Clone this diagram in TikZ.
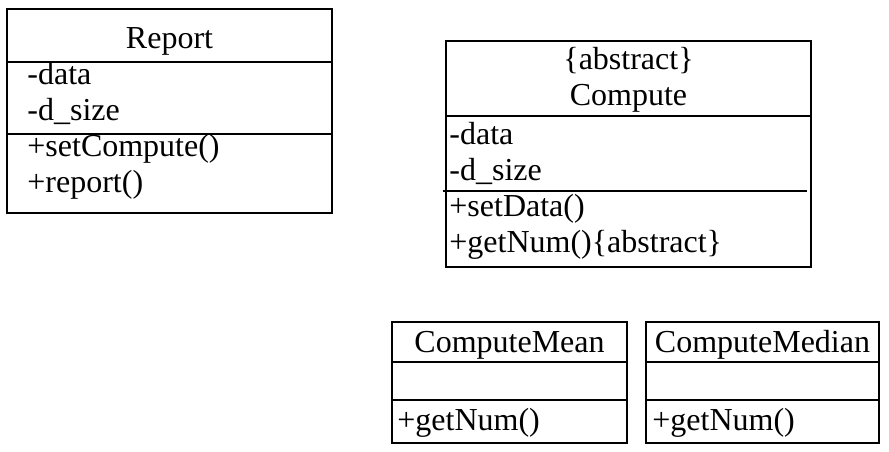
\documentclass[tikz,border=0pt]{standalone}
\usepackage{fontspec}
\setmainfont{Liberation Serif}
\usepackage{tikz}
\usetikzlibrary{positioning}

\newcommand{\umlfont}{\fontsize{16pt}{18pt}\selectfont}

\begin{document}
\begin{tikzpicture}[
    x=0.5pt, y=-0.5pt,
    cls/.style={
        draw,
        line width=1pt,
        anchor=north west,
        inner sep=0pt,
        outer sep=0pt
    },
    sep/.style={
        line width=1pt
    },
    cname/.style={
        font=\umlfont,
        anchor=base,
        inner sep=0pt,
        align=center
    },
    member/.style={
        font=\umlfont,
        anchor=base west,
        inner sep=0pt,
        align=left
    }
]
\useasboundingbox (0,0) rectangle (889,451);

%-------------------------------------------------
% Report
%-------------------------------------------------

\node[cls, minimum width=162.5pt, minimum height=102pt] (report) at (7,9) {};
\draw[sep] ([yshift=-26.5pt]report.north west) -- ([yshift=-26.5pt]report.north east);
\draw[sep] ([yshift=-62.5pt]report.north west) -- ([yshift=-62.5pt]report.north east);

\node[cname] (reportT) at (169.5,48) {Report};
\node[member] (reportA) at (27,120) {-data\\-d\_size};
\node[member] (reportM) at (27,192) {+setCompute()\\+report()};

%-------------------------------------------------
% Compute (abstract)
%-------------------------------------------------

\node[cls, minimum width=182.5pt, minimum height=113pt] (compute) at (446,41) {};
\draw[sep] ([yshift=-37.5pt]compute.north west) -- ([yshift=-37.5pt]compute.north east);
\draw[sep] ([xshift=-1.5pt,yshift=-75pt]compute.north west) -- ([xshift=-2pt,yshift=-75pt]compute.north east);

\node[cname] (computeT) at (628.5,105) {\{abstract\}\\Compute};
\node[member] (computeA) at (449,180) {-data\\-d\_size};
\node[member] (computeM) at (449,252) {+setData()\\+getNum()\{abstract\}};

%-------------------------------------------------
% ComputeMean
%-------------------------------------------------

\node[cls, minimum width=117.5pt, minimum height=60.5pt] (mean) at (392,322) {};
\draw[sep] ([yshift=-20pt]mean.north west) -- ([yshift=-20pt]mean.north east);
\draw[sep] ([yshift=-39pt]mean.north west) -- ([yshift=-39pt]mean.north east);

\node[cname] (meanT) at (509.5,352) {ComputeMean};
\node[member] (meanM) at (397,430) {+getNum()};

%-------------------------------------------------
% ComputeMedian
%-------------------------------------------------

\node[cls, minimum width=116.5pt, minimum height=60.5pt] (median) at (646,322) {};
\draw[sep] ([yshift=-20pt]median.north west) -- ([yshift=-20pt]median.north east);
\draw[sep] ([yshift=-39pt]median.north west) -- ([yshift=-39pt]median.north east);

\node[cname] (medianT) at (762.5,352) {ComputeMedian};
\node[member] (medianM) at (652,430) {+getNum()};

\end{tikzpicture}
\end{document}
